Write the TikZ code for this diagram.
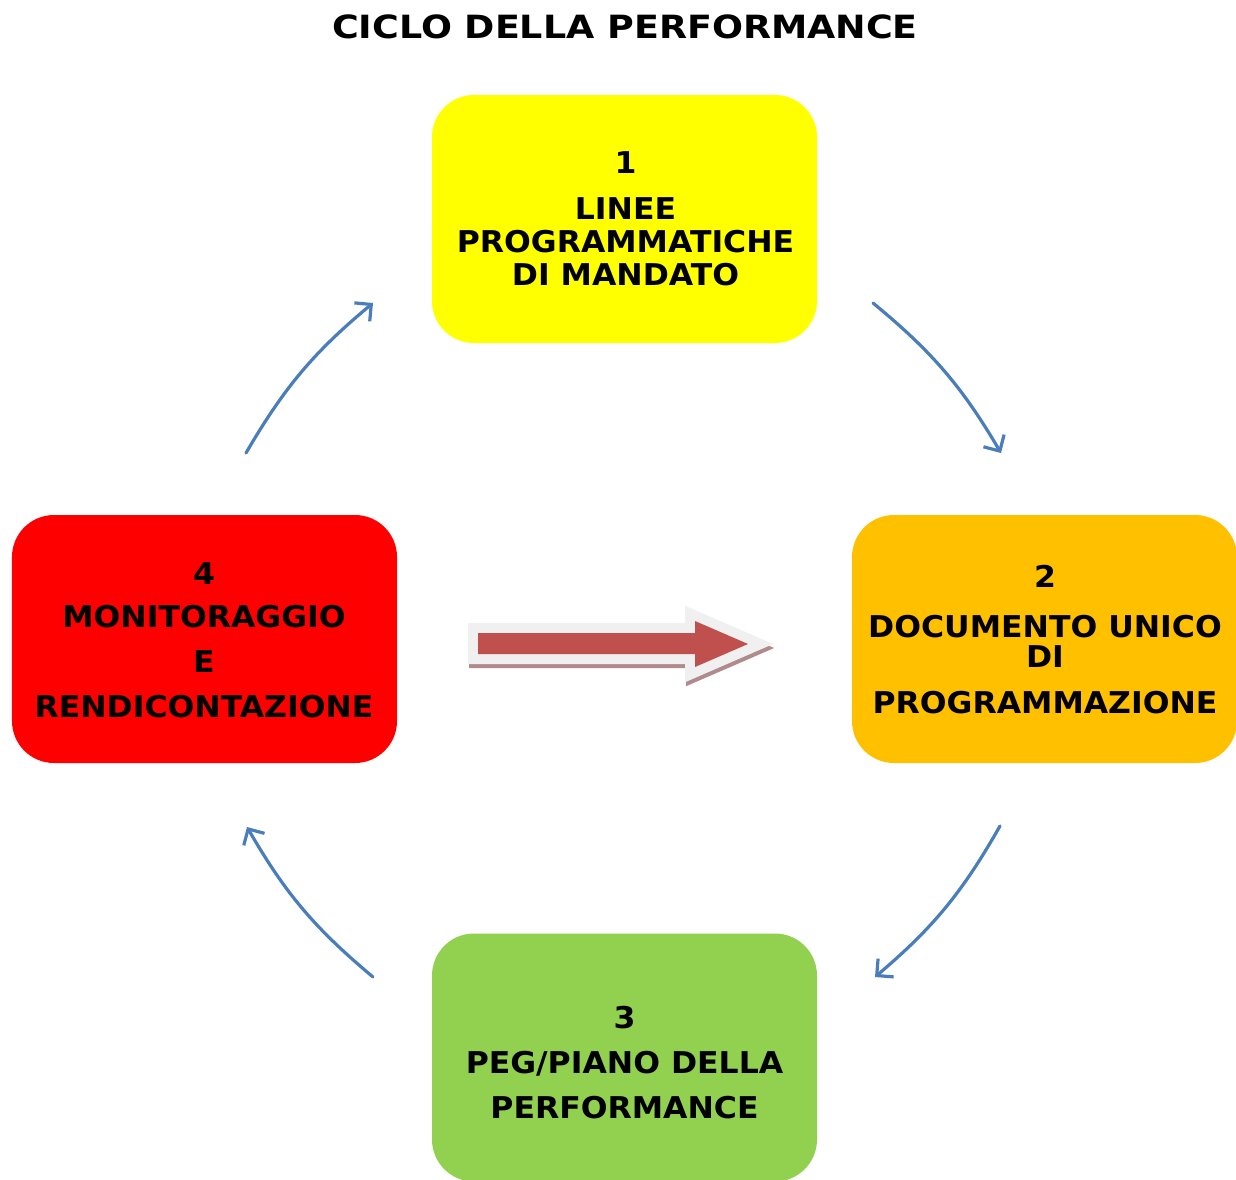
\documentclass[tikz,border=0pt]{standalone}
\usepackage{fontspec}
\setmainfont{DejaVu Sans}[FakeStretch=1.05]
\newfontfamily\titlefont{DejaVu Sans}[FakeStretch=1.14]
\usetikzlibrary{arrows.meta}

\definecolor{phaseyellow}{HTML}{FFFF00}
\definecolor{phaseorange}{HTML}{FFC000}
\definecolor{phasered}{HTML}{FF0000}
\definecolor{phasegreen}{HTML}{92D050}
\definecolor{cycleblue}{HTML}{4A7EBB}
\definecolor{bigred}{HTML}{C0504D}
\definecolor{bigrim}{HTML}{F0F0F0}
\definecolor{bigshadow}{HTML}{B08A8C}

\begin{document}
\begin{tikzpicture}[x=1bp,y=1bp,
  phase/.style={rectangle, rounded corners=42bp, minimum width=385bp,
    minimum height=248bp, inner sep=0pt},
  phasetext/.style={align=center, inner sep=0pt,
    font=\bfseries\fontsize{30bp}{#1}\selectfont},
  cyclearrow/.style={draw=cycleblue, line width=3.2bp, line cap=round,
    -{Straight Barb[length=12bp,width=24bp]}, bend left=10},
  bigarrowpath/.style={insert path={(478,-633) -- (695,-633) -- (695,-621)
    -- (748,-644) -- (695,-667) -- (695,-654) -- (478,-654) -- cycle}},
]
\useasboundingbox (0,0) rectangle (1236,-1180);
\fill[white] (0,0) rectangle (1236,-1180);

% title
\node[font=\titlefont\bfseries\fontsize{32bp}{38bp}\selectfont] (title)
  at (625,-27) {CICLO DELLA PERFORMANCE};

% the four phases
\node[phase, fill=phaseyellow] (p1) at (624.5,-219) {};
\node[phase, fill=phaseorange] (p2) at (1044.5,-639) {};
\node[phase, fill=phasegreen]  (p3) at (624.5,-1057.5) {};
\node[phase, fill=phasered]    (p4) at (204.5,-639) {};

\node[phasetext=33bp] (t1) at (625.5,-218.5)
  {1\\[13bp]LINEE\\PROGRAMMATICHE\\DI MANDATO};
\node[phasetext=30bp] (t2) at (1045,-640)
  {2\\[20bp]DOCUMENTO UNICO\\DI\\[16bp]PROGRAMMAZIONE};
\node[phasetext=45bp] (t3) at (624.5,-1062.5)
  {3\\PEG/PIANO DELLA\\PERFORMANCE};
\node[phasetext=45bp] (t4) at (204,-640)
  {4\\[-2bp]MONITORAGGIO\\E\\RENDICONTAZIONE};

% cycle connectors
\coordinate (a1s) at (246,-453);  \coordinate (a1e) at (373,-303);
\coordinate (a2s) at (873,-303);  \coordinate (a2e) at (1001,-453);
\coordinate (a3s) at (1000,-826); \coordinate (a3e) at (875,-977);
\coordinate (a4s) at (373,-977);  \coordinate (a4e) at (247,-827);
\draw[cyclearrow] (a1s) to (a1e);
\draw[cyclearrow] (a2s) to (a2e);
\draw[cyclearrow] (a3s) to (a3e);
\draw[cyclearrow] (a4s) to (a4e);

% central block arrow: shadow, light rim, red body
\path[draw=bigshadow, fill=bigshadow, line width=20bp, line join=miter,
  shift={(1,-4)}, bigarrowpath];
\path[draw=bigrim, fill=bigrim, line width=20bp, line join=miter, bigarrowpath];
\path[fill=bigred, bigarrowpath];
\end{tikzpicture}
\end{document}
